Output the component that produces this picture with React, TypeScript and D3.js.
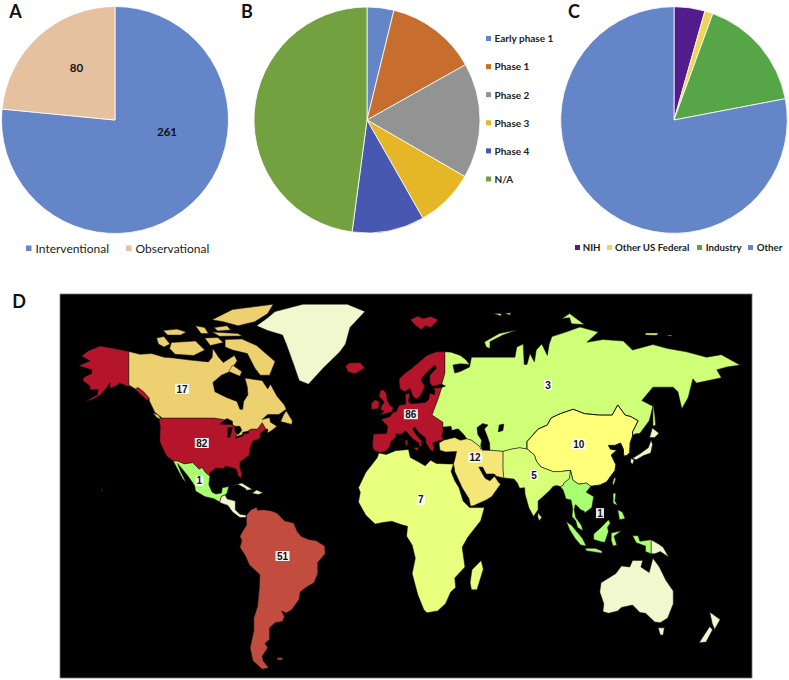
// trial summary figure: three pies and a world map of sites per region
import * as d3 from 'd3';

const studyTypes = ['Interventional', 'Observational'];
const studyCounts = [261, 80];
const studyColors = ['#6585C9', '#E6C1A0'];

const phases = ['Early phase 1', 'Phase 1', 'Phase 2', 'Phase 3', 'Phase 4', 'N/A'];
const phaseCounts = [10, 34, 43, 22, 27, 125];
const phaseColors = ['#6585C9', '#C76E2E', '#939393', '#E5B727', '#4858B0', '#74A13F'];

const funders = ['NIH', 'Other US Federal', 'Industry', 'Other'];
const funderCounts = [15, 4, 56, 266];
const funderColors = ['#521C8C', '#EFD45C', '#56A648', '#6585C9'];

// outlines are [lon, lat]
type Ring = [number, number][];

const alaska: Ring[] = [[[-141, 69.6], [-148, 70.4], [-156.5, 71.3], [-163, 69.7], [-166.5, 68.3], [-162, 67], [-164, 66.5], [-168, 65.6], [-161, 64.5], [-161, 63.5], [-165, 62.5], [-166, 61.6], [-162, 60], [-162, 58.7], [-157.5, 58.8], [-158, 57], [-163, 55.2], [-164.5, 54.7], [-160, 55.5], [-156, 57.2], [-153.5, 59], [-151, 61], [-151.5, 59.2], [-148, 60], [-146, 60.8], [-142, 60], [-139.5, 59.7], [-137, 58.5], [-134.5, 57], [-131, 55], [-130, 55.9], [-133, 58], [-136, 59.5], [-137.5, 59], [-141, 60.3]],
  [[-156, 20.5], [-155, 20], [-155.6, 19.1]]];
const usa: Ring[] = [[[-123, 49], [-95, 49], [-88.5, 48.3], [-84.5, 46.5], [-82.5, 45], [-83, 42], [-79, 43.3], [-75, 45], [-71.5, 45], [-69, 47.3], [-67, 45], [-70, 43.5], [-70, 41.7], [-74, 40.7], [-75.5, 38], [-76, 35], [-78, 33.8], [-81, 32], [-81, 30], [-80, 26.8], [-80.5, 25.2], [-81.8, 26], [-83, 29], [-85, 29.7], [-89, 30.3], [-90, 29.2], [-94, 29.6], [-97.3, 27.5], [-97.2, 26], [-99.5, 27.5], [-101.5, 29.8], [-103, 29], [-106.5, 31.8], [-111, 31.3], [-114.8, 32.5], [-117, 32.5], [-120.5, 34.5], [-122.5, 37.5], [-124.3, 40.5], [-124, 46], [-124.7, 48.4]]];
const canada: Ring[] = [[[-141, 69.6], [-135, 68.8], [-128.6, 69], [-122, 68], [-117, 67.8], [-108, 67.2], [-98, 66.7], [-96, 68], [-95.6, 70.5], [-92.5, 68], [-90, 66.5], [-84, 68.5], [-82.5, 67], [-86.4, 64], [-91, 63], [-95.6, 61], [-94.5, 58], [-88, 56], [-82.6, 54.7], [-81, 52], [-79.5, 52], [-79, 54.7], [-76.7, 57], [-77, 59.6], [-78.3, 62.2], [-69, 61.5], [-66, 59], [-64.5, 60.5], [-61, 56.5], [-57, 53.5], [-56, 52], [-60, 50.2], [-66, 50.2], [-69, 48.5], [-65, 49.2], [-64.5, 47.5], [-61, 46], [-63.5, 44.7], [-66, 43.6], [-66, 45], [-67, 45], [-69, 47.3], [-71.5, 45], [-75, 45], [-79, 43.3], [-83, 42], [-82.5, 45], [-84.5, 46.5], [-88.5, 48.3], [-95, 49], [-123, 49], [-127, 51], [-130, 55], [-130, 55.9], [-133, 58], [-136, 59.5], [-137.5, 59], [-141, 60.3]],
  [[-80, 73.7], [-72, 71.5], [-67, 69], [-62, 66.8], [-65, 63], [-70, 63], [-73, 65], [-77, 69], [-85, 70], [-89, 71], [-89, 73.5]],
  [[-118, 72.5], [-105, 73], [-100, 70], [-106, 68.5], [-116, 68.8], [-119, 70.5]],
  [[-126, 74], [-122, 74.5], [-118.8, 72], [-122, 71], [-125, 72]],
  [[-96, 79.5], [-85, 82], [-63, 83.3], [-66, 81], [-73, 79], [-82, 78], [-90, 79]],
  [[-122.5, 76.5], [-115, 77], [-110, 76], [-113, 75], [-120, 75]],
  [[-96, 76], [-82, 75.5], [-80, 74.7], [-92, 74.6]],
  [[-95, 77.5], [-88, 78], [-86, 76.7], [-93, 76.4]],
  [[-105, 78], [-100, 77.5], [-98, 75.5], [-102, 75.5]],
  [[-100, 74], [-93, 74.2], [-90, 72.5], [-97, 71.5]],
  [[-87, 64], [-81, 62.7], [-80, 64], [-85, 65.8]],
  [[-59, 47.7], [-53, 46.7], [-52.7, 48], [-56, 51.5], [-57.5, 50]],
  [[-128, 50.8], [-125, 50], [-123.5, 48.4], [-126, 49.2]]];
const mexico: Ring[] = [[[-117, 32.5], [-114.8, 32.5], [-111, 31.3], [-106.5, 31.8], [-103, 29], [-101.5, 29.8], [-99.5, 27.5], [-97.2, 26], [-97.8, 22.3], [-96, 19], [-94, 18.2], [-91, 18.6], [-90.5, 21], [-87, 21.5], [-88, 18.5], [-89, 17.8], [-91, 17.2], [-92, 14.6], [-95, 16], [-100, 17], [-105, 19.5], [-105.5, 22], [-109, 26], [-112.5, 29.5], [-114.7, 31.5], [-113, 28], [-110, 23.2], [-112, 25], [-115, 29.5]]];
const centralAmerica: Ring[] = [[[-92, 14.6], [-91, 17.2], [-89, 17.8], [-88, 16], [-83.5, 15], [-83.5, 11], [-81, 9], [-77.5, 8.5], [-78, 7.5], [-81, 7.5], [-85, 10], [-87.5, 13], [-91, 14]],
  [[-85, 22], [-80, 23], [-74.2, 20.2], [-77.5, 19.9], [-78, 20.7], [-82, 22.4]],
  [[-74.5, 18.5], [-72, 20], [-68.5, 18.7], [-71, 18]]];
const southAmerica: Ring[] = [[[-77.5, 8.5], [-75, 11], [-72, 12.2], [-71.5, 10.8], [-68, 11], [-64, 10.5], [-61, 9.5], [-57, 6], [-52, 5], [-50, 1], [-48, -1], [-44, -2.5], [-40, -3], [-35.2, -5.5], [-35, -9], [-39, -13], [-39, -18], [-41, -22], [-45, -23.8], [-48.5, -26], [-49, -29], [-53, -33.5], [-56, -34.9], [-58.5, -34], [-57, -36.5], [-58, -38.5], [-62, -39], [-65, -41], [-65, -45], [-67.5, -46.5], [-66, -48], [-69, -51], [-68.5, -52.5], [-65.5, -55], [-69, -55.5], [-74, -52.5], [-75.5, -48], [-73.5, -42], [-73.5, -37], [-71.5, -32], [-70.5, -24], [-70.3, -18.4], [-76, -14], [-78, -10], [-81, -6], [-80, -3], [-81, -1], [-79, 2], [-77.5, 4], [-77.5, 7]],
  [[-61, -51.5], [-58, -51.5], [-58, -52.3], [-61, -52.2]]];
const greenland: Ring[] = [[[-72, 78], [-66, 76.5], [-58, 75], [-56, 72], [-52, 66], [-49, 61.5], [-44, 60.5], [-36, 65], [-27, 69.5], [-24, 72], [-21.6, 77.5], [-13.5, 81.5], [-23, 83.3], [-47, 83.3], [-62, 81.5], [-66, 80]]];
const europe: Ring[] = [[[5, 62], [8, 63.5], [12, 65], [15, 66.3], [20, 68.5], [25, 69.5], [29.7, 69.5], [29.7, 68], [29.7, 63.6], [28, 60.5], [22.8, 59.9], [21.5, 61], [21.5, 63], [25.3, 65], [24, 65.8], [21.5, 64.5], [17.5, 62.5], [17, 61.5], [18.8, 59.8], [16.5, 56.7], [14.3, 55.5], [12.5, 56.3], [10.8, 59.2], [8, 58], [5.5, 59], [5, 61]],
  [[28, 59.5], [26, 55.5], [22.7, 50], [28.6, 47.5], [28.6, 45.8], [28.6, 44], [28, 42.5], [29, 41.2], [26, 40.8], [23, 40], [24, 38], [23, 36.5], [22, 37], [19.5, 40], [19.3, 41.8], [15.2, 44], [13.6, 45.7], [12.3, 45.2], [13.5, 43.6], [16, 41.5], [18.4, 40], [16.8, 40.4], [17, 39], [16, 38], [15.7, 40], [12.5, 41.4], [10.3, 43], [8.5, 44.4], [6, 43.1], [3.2, 43.3], [3.2, 42], [0.5, 40.5], [0, 38.7], [-2, 36.8], [-5.3, 36], [-6, 36.2], [-8.8, 37], [-9.4, 38.8], [-9, 43.2], [-1.8, 43.4], [-1.2, 46], [-4.7, 48.5], [0, 49.5], [1.6, 50.9], [3.5, 51.3], [5, 53.4], [8.5, 53.7], [8.5, 55], [8.3, 57], [10.5, 57.6], [10.5, 56.5], [10, 54.8], [11, 54], [14, 54], [19.5, 54.4], [21, 55.5], [21.5, 57.5], [24, 57], [24.4, 58.2], [23.5, 59.2]],
  [[-5.5, 50], [1.3, 51.2], [1.7, 52.7], [0, 53.3], [-1.5, 55], [-2, 57.5], [-3.5, 58.6], [-5, 58.6], [-6, 56.5], [-3, 54.5], [-4.5, 53.2], [-5, 51.7], [-3, 51.4]],
  [[-10, 52], [-6.2, 52.2], [-5.7, 54.6], [-8, 55.3], [-10, 54]],
  [[12.5, 38], [15.5, 38.2], [15, 36.7]],
  [[8.3, 41], [9.7, 41], [9.5, 39.1], [8.4, 39]],
  [[-24, 65.5], [-22, 66.4], [-16, 66.5], [-13.7, 65], [-18.7, 63.4], [-22.5, 63.9]],
  [[11, 79.5], [14, 78], [17, 76.8], [19, 78], [22, 77.5], [26, 79.5], [22, 80.3], [18, 79.8], [15, 80.4]]];
const russia: Ring[] = [[[29.7, 69.5], [33, 69.4], [38, 68.5], [41, 67.3], [43, 66], [38, 66.2], [34, 65.8], [35, 63.6], [38, 64], [43, 65.3], [44, 68], [48.6, 68], [57.6, 68], [67.5, 68], [68.5, 71], [72, 72], [72.5, 66], [74, 66], [75.6, 69], [78, 66.7], [79, 70], [82, 72], [85, 68.5], [86, 72], [87.5, 74.5], [95, 76], [102.6, 77.7], [112.5, 76], [106.4, 72.6], [115, 73.5], [126, 73], [131, 70], [142, 71.8], [150, 70.5], [160, 69.5], [171, 68], [179, 68.7], [189, 65.8], [182, 65.3], [176.5, 64.5], [179, 62.3], [165.5, 60.8], [163.6, 62], [161, 56], [157.6, 52.2], [155.5, 58], [153, 59.6], [142, 59.6], [136, 55], [142, 53], [140, 48], [135, 43.5], [132, 43.2], [131, 42.5], [131, 44], [134, 48], [130, 49.5], [127, 50], [123, 53.5], [120, 50], [113, 50], [105, 50.5], [99, 52], [92, 50.5], [87, 49], [85, 46.5], [80, 45], [74, 40.5], [74, 37.5], [70, 38], [66, 37.5], [61, 36.5], [54, 37], [49, 37.5], [48.5, 38.5], [44, 41], [41.5, 41.5], [40, 43], [37, 45], [36, 45], [33.5, 44.5], [33, 46], [29.7, 45.8], [28.6, 45.8], [28.6, 47.5], [22.7, 50], [26, 55.5], [28, 59.5], [30, 60], [28, 60.5], [29.7, 63.6]],
  [[52, 71], [51, 72.7], [59, 75.5], [68.5, 76.7], [61, 75], [54, 72.8], [54, 70.5]],
  [[93, 79.8], [97, 81], [100, 80], [105, 78.3], [98, 78.5], [97, 80]],
  [[138, 75.7], [145, 75.7], [144, 74.9], [138, 75]],
  [[149, 75], [152, 75], [152, 74.6]],
  [[56, 81], [60, 81], [60, 80.4]],
  [[62, 81], [65, 81.2], [65, 80.6]],
  [[142, 54], [143, 50], [143.5, 46.5], [142, 46], [142, 50]]];
const chinaMongolia: Ring[] = [[[74, 40.5], [80, 45], [85, 46.5], [87, 49], [92, 50.5], [99, 52], [105, 50.5], [113, 50], [120, 50], [123, 53.5], [127, 50], [130, 49.5], [134, 48], [131, 44], [131, 42.5], [129.7, 40], [129.5, 36], [128, 34.8], [126.3, 34.5], [126, 37.5], [124.5, 40], [121.5, 39], [118, 39], [119, 37.5], [122.5, 37], [119.5, 35], [122, 31], [121.5, 28.5], [117, 23.5], [113.5, 22.2], [108.5, 21.6], [106, 23], [102, 22.5], [98.8, 24.2], [97.5, 28.5], [92, 28], [88, 28], [81.5, 30], [79, 32.5], [78, 35], [74, 37.5]]];
const southAsia: Ring[] = [[[61, 36.5], [66, 37.5], [70, 38], [74, 37.5], [78, 35], [79, 32.5], [81.5, 30], [88, 28], [92, 28], [97.5, 28.5], [97, 25], [94, 23], [93.5, 22], [92, 21.5], [90, 22], [88, 21.5], [86.5, 20], [82, 16.5], [80, 15], [80, 11], [77.5, 8], [75, 12], [73, 18], [72.7, 21], [70, 20.8], [68.8, 23], [67, 24.8], [61.5, 25.2], [61, 29]],
  [[80, 9.7], [82, 7.5], [80.5, 6], [79.8, 8]]];
const middleEast: Ring[] = [[[26.5, 40], [29, 41], [35, 42], [38, 41], [41.5, 41.5], [44, 41], [48.5, 38.5], [49, 37.5], [54, 37], [61, 36.5], [61, 29], [61.5, 25.2], [57.5, 26], [56.3, 27], [52, 27], [50, 30], [48, 30], [50, 27], [51.5, 25], [54, 24], [56.5, 26], [58.5, 23.5], [59.7, 22.5], [55, 17], [52, 15.5], [45, 12.8], [43.5, 12.7], [42.7, 16], [39, 21], [35, 28], [34.8, 29.5], [34.3, 31.3], [35, 33], [36, 36.5], [30, 36.3], [27, 37]]];
const africa: Ring[] = [[[-6, 35.8], [-2, 35.2], [3, 36.8], [10, 37.3], [11, 34], [15, 32.3], [19, 30.5], [22, 32.8], [25, 31.5], [31, 31.3], [34.3, 31.2], [33, 28], [35, 24], [37.3, 21], [39.5, 15], [43, 12], [51, 12], [49, 6], [42, -1.5], [39, -6], [40.5, -15], [35, -20], [35.5, -24], [32.8, -26], [30, -31], [25.7, -34], [20, -34.8], [18.3, -33.5], [15, -27], [12, -18], [13.7, -11], [12, -5], [9, -1], [9.5, 3.5], [6, 4.3], [1, 5.8], [-4, 5.2], [-8, 4.5], [-13, 8.5], [-17, 14.5], [-16, 19], [-17, 21], [-13, 27.7], [-9.7, 31], [-6.8, 34]],
  [[49.3, -12], [50.4, -16], [47, -25], [44, -25], [43.3, -22], [44.3, -16.2]]];
const southeastAsia: Ring[] = [[[97.5, 28.5], [98.8, 24.2], [102, 22.5], [106, 23], [108.5, 21.6], [106, 19], [110, 17], [109, 12], [105, 9.5], [105, 10.3], [103, 11], [100.9, 13], [100, 13.3], [99.5, 11], [100.3, 7.5], [103.4, 4], [104.2, 1.5], [101.3, 3], [100.3, 6], [98.3, 8], [98.7, 11.5], [97.8, 15.5], [95, 16], [94.3, 18], [93.5, 20], [92, 21.5], [93.5, 22], [94, 23], [97, 25]],
  [[95.3, 5.6], [98, 4], [104, -2], [106, -5.5], [103, -5], [100, -2], [97, 2]],
  [[105.5, -6.5], [111, -6.5], [114.5, -7.7], [114.5, -8.7], [106, -7.6]],
  [[110, 0], [114, 3], [118, 6.5], [119, 5], [117.5, 3], [118, 1], [116, -3.8], [114, -3.5], [110, -2.5]],
  [[119.5, 0.5], [125, 1.5], [121, -1], [122.5, -5], [120.5, -5.5], [119.5, -3]],
  [[120.5, 18.5], [122, 18.5], [121.5, 15], [123, 13], [120.5, 14]],
  [[123, 11], [125.5, 10], [127, 7], [124, 6.5]],
  [[121, 25.3], [122, 25], [120.8, 22], [120.2, 23]],
  [[131, -0.8], [134, -0.8], [135, -3.3], [141, -2.6], [141, -9], [138, -8], [138, -5.5], [133, -4]]];
const oceania: Ring[] = [[[114, -22], [122, -18], [125, -14.5], [129.5, -15], [131, -12], [136.5, -12], [135.5, -15], [140, -17.5], [142, -11], [145.5, -15], [149, -21], [153, -25.5], [153, -31], [150, -37], [146, -39], [143, -38.7], [138, -35], [135, -34.7], [131, -31.5], [125, -32.5], [123, -34], [118, -35], [115, -34.3], [115.5, -31], [113.3, -26]],
  [[144.8, -41], [148.2, -41], [147.5, -43.5], [146, -43.5]],
  [[172.7, -34.5], [178.3, -37.7], [175.3, -41.6], [174, -39.3]],
  [[172.7, -40.5], [174.2, -41.7], [170.7, -46], [167, -46.2], [170, -43.2]],
  [[141, -2.6], [145, -4.5], [147.5, -6], [150.5, -10.5], [146, -8], [143, -9], [141, -9]],
  [[131, 33.6], [135, 35.5], [139.5, 38], [141, 41], [141.8, 39.5], [140.8, 35.8], [137, 34.8], [133, 33]],
  [[130, 33.5], [131.8, 33], [131, 31], [130, 32]],
  [[140.2, 42], [141.7, 45.4], [145.3, 43.5], [143, 42]]];
const inlandWater: Ring[] = [[[-92, 46.8], [-88, 48.8], [-85, 47.8], [-85, 46.6]],
  [[-87.8, 42], [-86.4, 42], [-85, 45.8], [-87.5, 45.5]],
  [[-84, 46], [-81, 46], [-80, 44.6], [-82, 43], [-83.5, 44]],
  [[-83.4, 41.6], [-79, 42.7], [-79, 43], [-83, 42.3]],
  [[-79.7, 43.3], [-76.2, 43.5], [-76.4, 44.2], [-79.5, 43.9]],
  [[47, 45.5], [50, 47], [53, 46.5], [51, 45], [52.5, 42.5], [53.8, 40], [54, 37], [50, 37], [49, 39], [49.5, 41], [47.5, 43]],
  [[59, 46.5], [61.5, 46.8], [61, 44.5], [58.5, 44]]];

const regionRings = [greenland, oceania, centralAmerica, alaska, usa, canada, mexico, southAmerica, europe, russia, chinaMongolia, southAsia, middleEast, africa, southeastAsia, inlandWater];
const regionColors = ['#F2F8CE', '#F2F8CE', '#F2F8CE', '#B5152B', '#B5152B', '#EDD070', '#A9FF70', '#C24D3F', '#B5152B', '#CFFF77', '#FFFF7A', '#D9FF78', '#F5E678', '#E9FF7E', '#A9FF70', '#000000'];

const siteCounts = [17, 82, 1, 51, 86, 3, 10, 12, 5, 7, 1];
const siteLons = [-112.3, -101.6, -103, -58, 11.3, 85.3, 102, 46, 77.8, 16.7, 113.4];
const siteLats = [59, 40, 24, -10, 50.3, 60.3, 39.6, 34, 26.5, 15.6, 9.5];

const lonScale = d3.scaleLinear().domain([-180, 190]).range([56.6, 741.8]);
// the map stretches latitude like a Miller projection, so the scale is piecewise
const latScale = d3.scaleLinear()
  .domain([-60, -40, -20, 0, 10, 20, 30, 40, 49, 60, 70, 77.7, 83.6])
  .range([682, 625, 578, 534, 512, 490, 467, 443, 418, 386, 350, 327, 303]);

const ringPath = d3.line<[number, number]>()
  .x(d => lonScale(d[0]))
  .y(d => latScale(d[1]))
  .curve(d3.curveLinearClosed);

const FONT = 'Lato, Carlito, sans-serif';

function Pie({ cx, cy, r, values, colors }: { cx: number; cy: number; r: number; values: number[]; colors: string[] }) {
  const slices = d3.pie<number>().sort(null)(values);
  const arc = d3.arc<d3.PieArcDatum<number>>().innerRadius(0).outerRadius(r);
  return (
    <g transform={`translate(${cx},${cy})`}>
      {slices.map((s, i) => (
        <path key={i} d={arc(s) ?? ''} fill={colors[i]} stroke="#fff" strokeWidth={0.8} />
      ))}
    </g>
  );
}

function App() {
  return (
    <svg width={789} height={680} style={{ position: 'absolute', left: 0, top: 0 }} fontFamily={FONT}>
      <rect width={789} height={680} fill="#fff" />

      {/* panel A */}
      <Pie cx={115} cy={120} r={113.5} values={studyCounts} colors={studyColors} />
      <text x={167} y={135.5} textAnchor="middle" fontSize={11.5} fontWeight={700} fill="#111">{studyCounts[0]}</text>
      <text x={76.5} y={72} textAnchor="middle" fontSize={11.5} fontWeight={700} fill="#111">{studyCounts[1]}</text>
      {studyTypes.map((t, i) => (
        <g key={t}>
          <rect x={[26, 126][i]} y={245.5} width={5.5} height={5.5} fill={studyColors[i]} />
          <text x={[35.5, 135.5][i]} y={252.5} fontSize={12} fill="#222">{t}</text>
        </g>
      ))}

      {/* panel B */}
      <Pie cx={367} cy={120} r={113} values={phaseCounts} colors={phaseColors} />
      {phases.map((p, i) => (
        <g key={p}>
          <rect x={486} y={36 + i * 28.1} width={5} height={5} fill={phaseColors[i]} />
          <text x={494.5} y={42.3 + i * 28.1} fontSize={10} fontWeight={700} fill="#222">{p}</text>
        </g>
      ))}

      {/* panel C */}
      <Pie cx={674} cy={120} r={113.3} values={funderCounts} colors={funderColors} />
      {funders.map((f, i) => (
        <g key={f}>
          <rect x={[575, 607, 697, 748][i]} y={245} width={5} height={5} fill={funderColors[i]} />
          <text x={[582.7, 615, 705.7, 756.7][i]} y={250.5} fontSize={9.7} fontWeight={700} fill="#222">{f}</text>
        </g>
      ))}

      {/* panel letters */}
      {[['A', 15.5, 18], ['B', 247, 18], ['C', 574, 18], ['D', 19, 308]].map(([l, x, y]) => (
        <text key={l as string} x={x as number} y={y as number} textAnchor="middle" fontSize={18} fontWeight={700} fill="#111">{l}</text>
      ))}

      {/* panel D */}
      <rect x={60} y={294} width={692} height={384} fill="#000" stroke="#777" strokeWidth={0.8} />
      {regionRings.map((rings, i) => (
        <g key={i} fill={regionColors[i]} stroke="#111" strokeWidth={rings === chinaMongolia ? 1 : 0.5}>
          {rings.map((ring, j) => <path key={j} d={ringPath(ring) ?? ''} />)}
        </g>
      ))}
      {siteCounts.map((n, i) => {
        const x = lonScale(siteLons[i]);
        const y = latScale(siteLats[i]);
        const w = String(n).length * 6 + 2;
        return (
          <g key={i}>
            <rect x={x - w / 2} y={y - 5} width={w} height={10} fill="#fff" opacity={0.92} />
            <text x={x} y={y + 3.6} textAnchor="middle" fontSize={10} fontWeight={700} fontFamily="'Liberation Sans', sans-serif" fill="#111">{n}</text>
          </g>
        );
      })}
    </svg>
  );
}

export default App;
